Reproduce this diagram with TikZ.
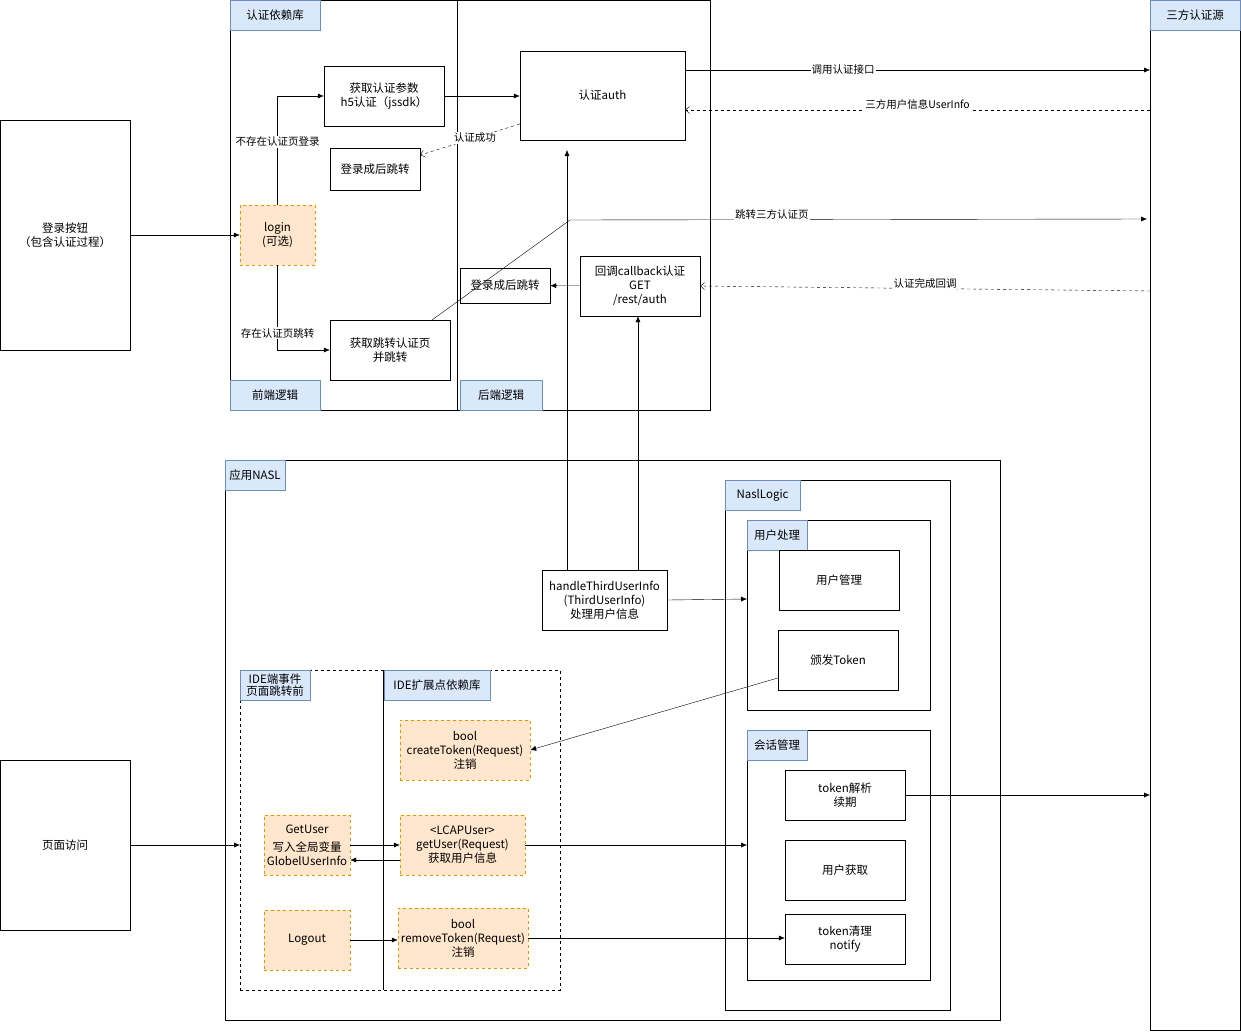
\documentclass[tikz,border=0pt]{standalone}
\usepackage{fontspec}
\setmainfont{Noto Sans CJK SC}
\usetikzlibrary{arrows.meta}
\definecolor{tagfill}{HTML}{DAE8FC}
\definecolor{tagdraw}{HTML}{6C8EBF}
\definecolor{orfill}{HTML}{FFE6CC}
\definecolor{ordraw}{HTML}{D79B00}
\tikzset{
  box/.style={draw, fill=white, align=center, inner sep=1pt, font=\fontsize{11.5}{14}\selectfont},
  frame/.style={draw, anchor=north west, inner sep=0pt},
  tag/.style={draw=tagdraw, fill=tagfill, align=center, inner sep=1pt, font=\fontsize{11.5}{12.5}\selectfont},
  opt/.style={box, draw=ordraw, fill=orfill, dashed},
  arr/.style={-{Latex[length=6pt,width=5pt]}},
  back/.style={dashed, -{Straight Barb[length=4pt,width=7pt]}},
  lbl/.style={fill=white, inner sep=1pt, font=\fontsize{10.5}{12}\selectfont}
}
\begin{document}
\begin{tikzpicture}[x=1pt,y=-1pt]
	\useasboundingbox (0,0) rectangle (1241,1031);
	% containers
	\node[frame, minimum width=480, minimum height=410] (authLib) at (230,0) {};
	\draw (457,0) -- (457,410);
	\node[frame, minimum width=90, minimum height=1000] (thirdSrc) at (1150,30) {};
	\node[frame, minimum width=775, minimum height=560] (nasl) at (225,460) {};
	\node[frame, minimum width=225, minimum height=530] (naslLogic) at (725,480) {};
	\node[frame, minimum width=183, minimum height=190] (userProc) at (747,520) {};
	\node[frame, minimum width=183, minimum height=250] (session) at (747,730) {};
	\node[frame, dashed, minimum width=320, minimum height=320] (ide) at (240,670) {};
	\draw (383,670) -- (383,990);
	% tags
	\node[tag, minimum width=90, minimum height=30] (tagLib) at (275,15) {认证依赖库};
	\node[tag, minimum width=90, minimum height=30] (tagFront) at (275,395) {前端逻辑};
	\node[tag, minimum width=82, minimum height=30] (tagBack) at (501,395) {后端逻辑};
	\node[tag, minimum width=90, minimum height=30] (tagThird) at (1195,15) {三方认证源};
	\node[tag, minimum width=60, minimum height=30] (tagNasl) at (255,475) {应用NASL};
	\node[tag, minimum width=75, minimum height=30] (tagLogic) at (762.5,495) {NaslLogic};
	\node[tag, minimum width=60, minimum height=30] (tagUser) at (777,535) {用户处理};
	\node[tag, minimum width=60, minimum height=30] (tagSess) at (777,745) {会话管理};
	\node[tag, minimum width=70, minimum height=30] (tagIde) at (275,685) {IDE端事件\\页面跳转前};
	\node[tag, minimum width=106, minimum height=30] (tagExt) at (437,685) {IDE扩展点依赖库};
	% nodes
	\node[box, minimum width=130, minimum height=230] (loginBtn) at (65,235) {登录按钮\\（包含认证过程）};
	\node[box, minimum width=130, minimum height=170] (visit) at (65,845) {页面访问};
	\node[box, minimum width=120, minimum height=60] (getParam) at (384,96) {获取认证参数\\h5认证（jssdk）};
	\node[box, minimum width=165, minimum height=89] (auth) at (602.5,95.5) {认证auth};
	\node[box, minimum width=90, minimum height=42] (jump1) at (375,169) {登录成后跳转};
	\node[opt, minimum width=75, minimum height=60] (login) at (277.5,235) {login\\(可选)};
	\node[box, minimum width=120, minimum height=60] (getJump) at (390,350) {获取跳转认证页\\并跳转};
	\node[box, minimum width=90, minimum height=35] (jump2) at (505,285.5) {登录成后跳转};
	\node[box, minimum width=120, minimum height=60] (callback) at (640,286) {回调callback认证\\GET\\/rest/auth};
	\node[box, minimum width=125, minimum height=60] (handle) at (604.5,600) {handleThirdUserInfo\\(ThirdUserInfo)\\处理用户信息};
	\node[box, minimum width=120, minimum height=60] (userMgr) at (839,580) {用户管理};
	\node[box, minimum width=120, minimum height=60] (issue) at (838,660) {颁发Token};
	\node[box, minimum width=120, minimum height=50] (parse) at (845,795) {token解析\\续期};
	\node[box, minimum width=120, minimum height=60] (userGet) at (845,870) {用户获取};
	\node[box, minimum width=120, minimum height=50] (clean) at (845,939) {token清理\\notify};
	\node[opt, minimum width=130, minimum height=60] (createTok) at (465,750) {bool\\createToken(Request)\\注销};
	\node[opt, minimum width=125, minimum height=60] (getUserExt) at (462.5,845) {<LCAPUser>\\getUser(Request)\\获取用户信息};
	\node[opt, minimum width=130, minimum height=60] (removeTok) at (463,938) {bool\\removeToken(Request)\\注销};
	\node[opt, minimum width=86, minimum height=60] (getUser) at (307,845) {GetUser\\[4pt]写入全局变量\\GlobelUserInfo};
	\node[opt, minimum width=86, minimum height=60] (logout) at (307,940) {Logout};
	% connectors
	\draw[arr] (loginBtn) -- (login);
	\draw[arr] (login.north) |- (getParam.west) node[lbl, pos=0.29] {不存在认证页登录};
	\draw[arr] (login.south) |- (getJump.west) node[lbl, pos=0.4] {存在认证页跳转};
	\draw[arr] (getParam) -- (auth.west |- getParam);
	\draw[back] (auth.west |- 0,124) -- (jump1.east |- 0,155) node[lbl, pos=0.45] {认证成功};
	\draw[arr] (auth.east |- 0,70) -- (thirdSrc.west |- 0,70) node[lbl, pos=0.34] {调用认证接口};
	\draw[back] (thirdSrc.west |- 0,110) -- (auth.east |- 0,110) node[lbl, pos=0.5, above=-1pt] {三方用户信息UserInfo};
	\coordinate (bend) at (570,220);
	\draw[arr] (getJump.north |- 0,320) ++(42,0) -- (bend) -- (1147,219) node[lbl, pos=0.35, above=-1pt] {跳转三方认证页};
	\draw[back] (thirdSrc.west |- 0,291) -- (callback.east) node[lbl, pos=0.5, above=-1pt] {认证完成回调};
	\draw[arr] (callback) -- (jump2);
	\draw[arr] (handle.north -| 567,0) -- (567,150);
	\draw[arr] (handle.north -| 638,0) -- (callback.south -| 638,0);
	\draw[arr] (handle.east) -- (userProc.west |- 0,599);
	\draw[arr] (issue.west |- 0,678) -- (createTok.east);
	\draw[arr] (parse.east) -- (thirdSrc.west |- parse.east);
	\draw[arr] (visit) -- (ide.west |- visit);
	\draw[arr] (getUser.east) -- (getUserExt.west);
	\draw[arr] (getUserExt.west |- 0,860) -- (getUser.east |- 0,860);
	\draw[arr] (getUserExt.east) -- (session.west |- getUserExt);
	\draw[arr] (logout) -- (removeTok.west |- logout);
	\draw[arr] (removeTok.east |- 0,938) -- (clean.west |- 0,938);
\end{tikzpicture}
\end{document}
